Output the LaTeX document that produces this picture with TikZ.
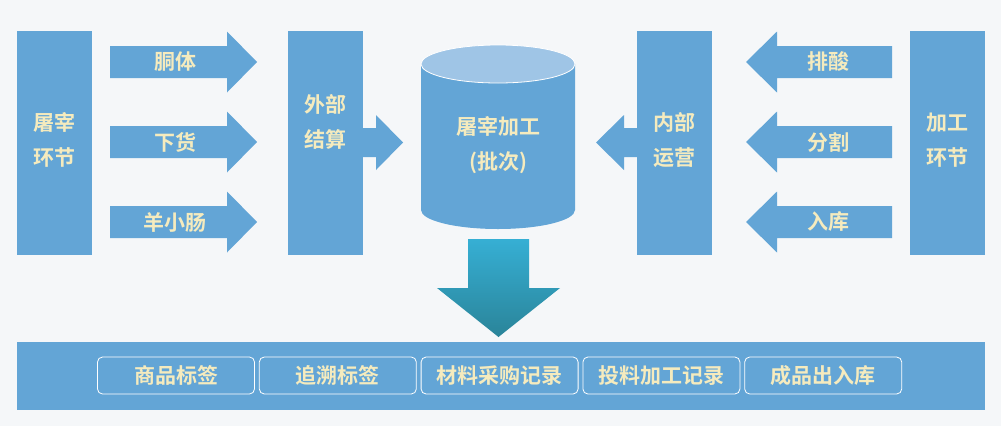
\documentclass[tikz,border=0pt]{standalone}
\usepackage{fontspec}
\newfontfamily\cjk{Noto Sans CJK SC Bold}
\usetikzlibrary{positioning}

\definecolor{bggray}{HTML}{F5F7F9}
\definecolor{boxblue}{HTML}{63A5D6}
\definecolor{toplight}{HTML}{9FC5E6}
\definecolor{labelcream}{HTML}{F5EBBE}
\definecolor{downtop}{HTML}{36AFD4}
\definecolor{downbot}{HTML}{2A8499}

\begin{document}
\begin{tikzpicture}[x=1pt,y=-1pt,
  lbl/.style={text=labelcream,font=\cjk\fontsize{21}{35}\selectfont,align=center,inner sep=0pt},
  tagbox/.style={draw=white,line width=0.8pt,rounded corners=5pt,fill=boxblue,
    minimum width=157pt,minimum height=37pt,text=labelcream,
    font=\cjk\fontsize{21}{24}\selectfont}]
\fill[bggray] (0,0) rectangle (1001,426);
\useasboundingbox (0,0) rectangle (1001,426);

% the four columns
\fill[boxblue] (17,31) rectangle (92,255);
\node[lbl] (tuzai) at (54.5,140) {屠宰\\环节};
\fill[boxblue] (288,31) rectangle (363,255);
\node[lbl] (waibu) at (325.5,122) {外部\\结算};
\fill[boxblue] (637,31) rectangle (712,255);
\node[lbl] (neibu) at (674.5,140) {内部\\运营};
\fill[boxblue] (910,31) rectangle (985,255);
\node[lbl] (jiagong) at (947.5,140) {加工\\环节};

% arrows into the columns
\foreach \y/\txt/\nm in {62/胴体/tongti,142/下货/xiahuo,222/羊小肠/yangxc}{
  \fill[boxblue] (110,\y-16) -- (227,\y-16) -- (227,\y-30.5) -- (257,\y)
    -- (227,\y+30.5) -- (227,\y+16) -- (110,\y+16) -- cycle;
  \node[lbl] (\nm) at (175,\y) {\txt};
}
\foreach \y/\txt/\nm in {62/排酸/paisuan,142/分割/fenge,222/入库/ruku}{
  \fill[boxblue] (892,\y-16) -- (777,\y-16) -- (777,\y-30.5) -- (746,\y)
    -- (777,\y+30.5) -- (777,\y+16) -- (892,\y+16) -- cycle;
  \node[lbl] (\nm) at (828,\y) {\txt};
}

% arrows to the cylinder
\fill[boxblue] (363,128) -- (376,128) -- (376,115) -- (403,142.5) -- (376,170)
  -- (376,157) -- (363,157) -- cycle;
\fill[boxblue] (637,128) -- (624,128) -- (624,115) -- (596,142.5) -- (624,170)
  -- (624,157) -- (637,157) -- cycle;

% cylinder
\fill[boxblue] (421,64) -- (421,210) arc (180:0:77 and 19) -- (575,64) -- cycle;
\filldraw[fill=toplight, draw=white, line width=0.8pt] (498,64) ellipse (77 and 19);
\node[lbl] (pici) at (498,145) {屠宰加工\\(批次)};

% down arrow
\shade[top color=downtop, bottom color=downbot] (468,239) -- (529,239) -- (529,288)
  -- (560,288) -- (498.5,337) -- (437,288) -- (468,288) -- cycle;

% bottom band
\fill[boxblue] (17,342) rectangle (985,410);
\node[tagbox] (shangpin) at (176,375.5) {商品标签};
\node[tagbox, right=4pt of shangpin] (zhuisu) {追溯标签};
\node[tagbox, right=4pt of zhuisu] (cailiao) {材料采购记录};
\node[tagbox, right=4pt of cailiao] (touliao) {投料加工记录};
\node[tagbox, right=4pt of touliao] (chengpin) {成品出入库};

\end{tikzpicture}
\end{document}
